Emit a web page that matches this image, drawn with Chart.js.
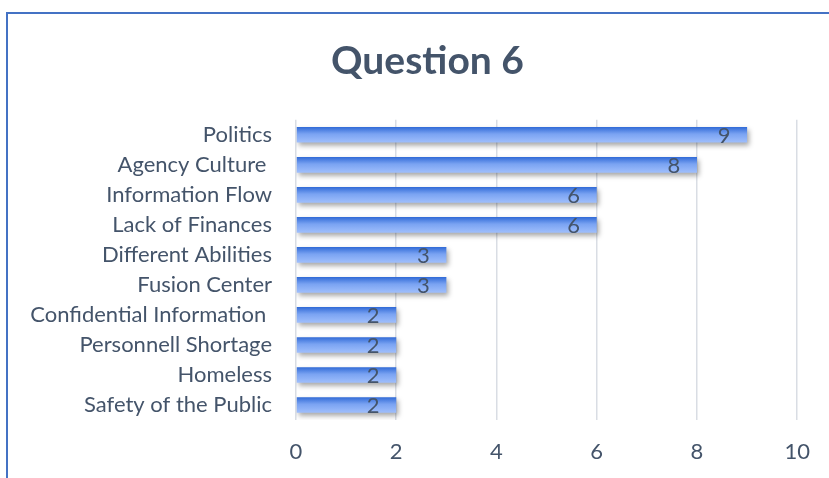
<!DOCTYPE html>
<html>
<head>
<meta charset="utf-8">
<script src="https://cdn.jsdelivr.net/npm/chart.js@4.4.1/dist/chart.umd.min.js"></script>
<style>
    html, body { margin: 0; padding: 0; background: #fff; overflow: hidden; }
    #frame {
        position: absolute; left: 6px; top: 12px;
        width: 900px; height: 600px;
        border: 2.5px solid #4472c4;
    }
    #chart { position: absolute; left: 0; top: 0; }
</style>
</head>
<body>
<div id="frame"></div>
<canvas id="chart" width="829" height="478"></canvas>
<script>
const categories = [
    "Politics", "Agency Culture ", "Information Flow", "Lack of Finances",
    "Different Abilities", "Fusion Center", "Confidential Information ",
    "Personnell Shortage", "Homeless", "Safety of the Public"
];
const counts = [9, 8, 6, 6, 3, 3, 2, 2, 2, 2];
const xTicks = [0, 2, 4, 6, 8, 10];

const textColor = "#44546a";
const fontFamily = "Lato, 'Open Sans', sans-serif";

function barGradient(ctx) {
    const chart = ctx.chart;
    const yScale = chart.scales.y;
    if (!yScale || ctx.dataIndex === undefined) return "#6b9af0";
    const mid = yScale.getPixelForValue(ctx.dataIndex);
    if (!isFinite(mid)) return "#6b9af0";
    const g = chart.ctx.createLinearGradient(0, mid - 8, 0, mid + 8);
    g.addColorStop(0, "#2f69d6");
    g.addColorStop(0.45, "#7aa3f2");
    g.addColorStop(1, "#a0bffc");
    return g;
}

// title sits centred on the outer frame, not on the padded box
const titleShift = {
    id: "titleShift",
    afterLayout(chart) {
        if (chart.titleBlock) {
            chart.titleBlock.left = 26;
            chart.titleBlock.right = 829;
        }
    }
};

const shadowPlugin = {
    id: "barShadow",
    beforeDatasetsDraw(chart) {
        const c = chart.ctx;
        c.save();
        c.shadowColor = "rgba(0,0,0,0.35)";
        c.shadowBlur = 5;
        c.shadowOffsetX = 2;
        c.shadowOffsetY = 3;
    },
    afterDatasetsDraw(chart) {
        chart.ctx.restore();
    }
};

const valueLabels = {
    id: "valueLabels",
    afterDatasetsDraw(chart) {
        const c = chart.ctx;
        const meta = chart.getDatasetMeta(0);
        c.save();
        c.fillStyle = textColor;
        c.font = "22px " + fontFamily;
        c.textAlign = "center";
        c.textBaseline = "middle";
        meta.data.forEach((bar, i) => {
            c.fillText(String(counts[i]), bar.x - 23, bar.y + 1);
        });
        c.restore();
    }
};

new Chart(document.getElementById("chart"), {
    type: "bar",
    data: {
        labels: categories,
        datasets: [{
            data: counts,
            backgroundColor: barGradient,
            borderWidth: 0,
            barPercentage: 0.52,
            categoryPercentage: 1
        }]
    },
    plugins: [titleShift, shadowPlugin, valueLabels],
    options: {
        indexAxis: "y",
        responsive: false,
        animation: false,
        layout: { padding: { left: 26, right: 22, top: 0, bottom: 0 } },
        plugins: {
            legend: { display: false },
            tooltip: { enabled: false },
            title: {
                display: true,
                text: "Question 6",
                color: textColor,
                font: { family: fontFamily, size: 39, weight: "bold" },
                padding: { top: 38, bottom: 35 }
            }
        },
        scales: {
            x: {
                min: 0,
                max: 10,
                afterBuildTicks: scale => { scale.ticks = xTicks.map(v => ({ value: v })); },
                afterFit: scale => { scale.height = 58; },
                ticks: { color: textColor, font: { family: fontFamily, size: 22 }, padding: 19 },
                grid: { color: "#d9dde4", lineWidth: 1.5, drawTicks: false },
                border: { display: false }
            },
            y: {
                afterFit: scale => { scale.width = 270; },
                ticks: { color: textColor, font: { family: fontFamily, size: 22 }, padding: 24, autoSkip: false },
                grid: { display: false, drawTicks: false },
                border: { display: false }
            }
        }
    }
});
</script>
</body>
</html>
